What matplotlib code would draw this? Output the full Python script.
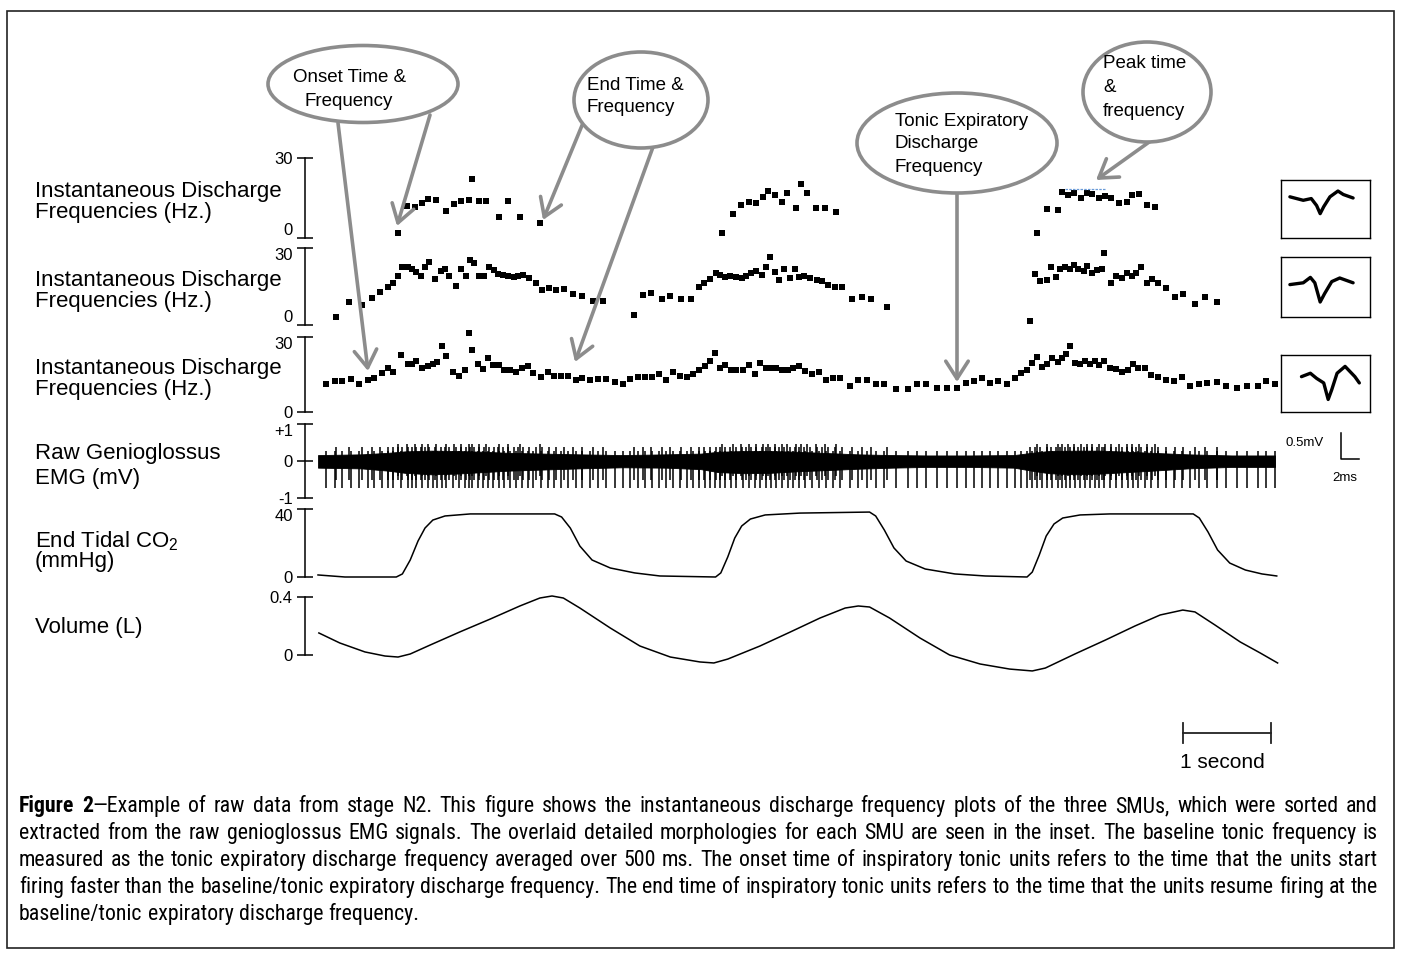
import matplotlib
matplotlib.use("Agg")
import matplotlib.pyplot as plt
from matplotlib import font_manager
from matplotlib.patches import Ellipse, Rectangle, FancyArrowPatch

W, H = 1401, 961

# ---------------- data (time in s) ----------------
unit1_t = [0.92, 1.02, 1.11, 1.20, 1.27, 1.36, 1.47, 1.56, 1.64, 1.73, 1.77, 1.85, 1.93, 2.08, 2.18, 2.32, 2.55,
           4.64, 4.77, 4.86, 4.95, 5.03, 5.11, 5.17, 5.25, 5.33, 5.39, 5.49, 5.55, 5.62, 5.72, 5.83, 5.95,
           8.27, 8.38, 8.50, 8.55, 8.62, 8.69, 8.77, 8.84, 8.90, 8.98, 9.05, 9.12, 9.21, 9.30, 9.36, 9.44, 9.53, 9.62]
unit1_hz = [1.8, 12.1, 11.8, 13.0, 14.8, 14.3, 10.2, 12.6, 13.8, 14.1, 22.0, 13.8, 13.8, 8.0, 13.8, 7.9, 5.7,
            1.8, 9.0, 12.5, 13.5, 13.3, 15.5, 17.6, 16.0, 13.5, 17.0, 11.1, 20.3, 16.8, 11.1, 11.1, 9.8,
            1.8, 10.8, 10.5, 17.1, 16.0, 17.0, 15.0, 17.0, 16.5, 15.0, 15.8, 15.0, 13.2, 13.5, 16.0, 16.5, 12.5, 11.6]

unit2_t = [0.21, 0.36, 0.51, 0.62, 0.71, 0.80, 0.86, 0.92, 0.97, 1.03, 1.08, 1.13, 1.18, 1.23, 1.28, 1.35, 1.41,
           1.46, 1.50, 1.59, 1.64, 1.70, 1.75, 1.79, 1.85, 1.91, 1.96, 2.02, 2.07, 2.13, 2.18, 2.25, 2.30, 2.36,
           2.43, 2.50, 2.58, 2.66, 2.74, 2.83, 2.93, 3.03, 3.16, 3.28,
           3.63, 3.74, 3.83, 3.95, 4.05, 4.17, 4.29, 4.38, 4.44, 4.51, 4.57, 4.62, 4.68, 4.74, 4.80, 4.87, 4.92,
           4.98, 5.03, 5.10, 5.15, 5.19, 5.25, 5.30, 5.36, 5.42, 5.48, 5.53, 5.59, 5.66, 5.73, 5.79, 5.86, 5.94,
           6.02, 6.14, 6.25, 6.36, 6.54,
           8.18, 8.24, 8.30, 8.38, 8.42, 8.48, 8.53, 8.59, 8.64, 8.69, 8.74, 8.80, 8.84, 8.90, 8.95, 9.01, 9.04,
           9.11, 9.17, 9.24, 9.30, 9.36, 9.40, 9.46, 9.53, 9.59, 9.66, 9.75, 9.85, 9.94, 10.08, 10.20, 10.33]
unit2_hz = [3.0, 9.1, 7.8, 10.6, 13.0, 14.9, 16.5, 19.1, 22.7, 22.7, 21.7, 20.8, 19.1, 22.7, 24.5, 18.0, 21.2,
            21.8, 19.1, 15.2, 21.9, 19.1, 25.3, 24.0, 19.1, 19.1, 22.5, 21.4, 19.9, 19.6, 19.1, 18.6, 19.1, 19.6,
            18.2, 16.5, 13.6, 14.3, 13.5, 14.0, 12.0, 11.4, 9.5, 9.5,
            4.0, 11.6, 12.6, 10.2, 11.3, 10.2, 10.0, 14.7, 16.5, 18.0, 20.1, 19.5, 18.6, 19.1, 18.6, 18.3, 19.1,
            20.1, 20.9, 19.4, 22.5, 26.4, 20.6, 17.5, 21.9, 18.3, 21.7, 18.6, 19.1, 18.3, 17.5, 17.0, 15.5, 14.7,
            14.7, 10.2, 11.0, 10.2, 6.9,
            1.6, 19.7, 17.3, 17.5, 22.5, 18.6, 21.9, 22.5, 21.7, 23.5, 21.9, 20.9, 23.0, 20.4, 21.4, 21.9, 27.9,
            16.2, 19.1, 18.2, 20.4, 19.1, 20.4, 22.5, 16.2, 18.0, 16.5, 14.4, 11.0, 12.1, 8.2, 10.8, 9.0]

unit3_t = [0.09, 0.20, 0.28, 0.38, 0.47, 0.57, 0.64, 0.73, 0.80, 0.86, 0.95, 1.03, 1.08, 1.13, 1.20, 1.27, 1.32,
           1.37, 1.42, 1.47, 1.55, 1.62, 1.69, 1.73, 1.77, 1.84, 1.90, 1.95, 2.01, 2.08, 2.14, 2.21, 2.28, 2.34,
           2.41, 2.47, 2.56, 2.64, 2.71, 2.79, 2.87, 2.96, 3.04, 3.13, 3.22, 3.31, 3.41, 3.51, 3.59, 3.68, 3.76,
           3.84, 3.92,
           4.00, 4.08, 4.16, 4.24, 4.31, 4.38, 4.45, 4.51, 4.56, 4.62, 4.68, 4.75, 4.81, 4.88, 4.95, 5.02, 5.08,
           5.15, 5.21, 5.27, 5.33, 5.40, 5.46, 5.53, 5.60, 5.68, 5.76, 5.84, 5.92, 6.00, 6.12, 6.21, 6.31, 6.41,
           6.51, 6.64, 6.78, 6.88, 6.99, 7.11, 7.23, 7.34, 7.45,
           7.54, 7.63, 7.72, 7.82, 7.92, 8.01, 8.08, 8.15, 8.21, 8.27, 8.32, 8.38, 8.44, 8.50, 8.55, 8.60, 8.64,
           8.70, 8.76, 8.82, 8.87, 8.93, 8.98, 9.04, 9.10, 9.17, 9.24, 9.31, 9.37, 9.43, 9.50, 9.57, 9.66, 9.75,
           9.84, 9.93, 10.02, 10.13, 10.22, 10.33, 10.44, 10.56, 10.68, 10.80, 10.90, 11.00]
unit3_hz = [11.3, 12.4, 12.4, 13.2, 11.3, 12.9, 13.4, 15.5, 17.4, 16.1, 22.8, 19.2, 19.2, 20.5, 17.4, 18.2, 19.2,
            20.0, 26.6, 22.4, 15.8, 14.2, 16.8, 31.6, 25.0, 19.2, 17.1, 21.6, 18.7, 18.7, 16.6, 16.8, 16.1, 17.4,
            18.4, 15.5, 13.9, 15.8, 14.2, 14.2, 14.2, 12.9, 13.7, 12.9, 13.2, 13.2, 11.8, 11.1, 13.2, 13.9, 13.9,
            13.9, 15.0,
            12.9, 15.8, 14.5, 13.9, 15.0, 16.6, 18.4, 20.3, 23.7, 17.4, 18.7, 16.6, 16.6, 16.6, 18.7, 15.3, 19.7,
            17.6, 17.6, 17.6, 16.8, 16.6, 17.4, 18.4, 16.3, 15.3, 15.8, 12.9, 13.4, 13.4, 10.5, 12.9, 12.9, 11.1,
            11.1, 9.2, 9.0, 11.3, 11.1, 9.7, 9.7, 9.5, 11.6,
            12.4, 13.7, 11.6, 12.4, 11.3, 13.4, 15.5, 16.6, 19.5, 22.1, 17.9, 19.2, 21.8, 20.0, 21.8, 23.2, 26.3,
            19.7, 19.2, 20.3, 19.2, 20.3, 18.7, 20.3, 17.6, 17.1, 15.8, 16.8, 19.2, 17.6, 17.6, 14.7, 13.9, 12.9,
            12.4, 13.9, 10.5, 11.3, 11.6, 12.1, 10.3, 9.5, 10.3, 10.3, 12.4, 11.3]

# raw EMG: dense band envelope (mV) and spike size per unit
emg_env_t = [0.0, 0.5, 0.8, 1.0, 1.3, 1.6, 1.9, 2.2, 2.6, 3.0, 3.5, 4.0, 4.4, 4.6, 4.9, 5.2, 5.5, 5.8, 6.2,
             6.6, 7.0, 7.5, 8.0, 8.2, 8.4, 8.7, 9.0, 9.3, 9.6, 10.0, 10.5, 11.0]
emg_env_hi = [0.16, 0.18, 0.22, 0.26, 0.28, 0.27, 0.25, 0.22, 0.2, 0.18, 0.16, 0.18, 0.2, 0.25, 0.27, 0.27,
              0.25, 0.22, 0.18, 0.16, 0.15, 0.15, 0.16, 0.22, 0.27, 0.28, 0.28, 0.25, 0.22, 0.18, 0.15, 0.15]
emg_env_lo = [-0.18, -0.2, -0.26, -0.32, -0.36, -0.34, -0.3, -0.26, -0.23, -0.2, -0.17, -0.18, -0.22, -0.3,
              -0.33, -0.32, -0.28, -0.25, -0.21, -0.18, -0.16, -0.16, -0.18, -0.26, -0.33, -0.36, -0.34, -0.3,
              -0.26, -0.2, -0.16, -0.16]
emg_spike_down = [-0.4, -0.52, -0.72]
emg_spike_up = [0.45, 0.38, 0.26]

co2_t = [0.00, 0.31, 0.90, 0.97, 1.06, 1.15, 1.23, 1.32, 1.46, 1.75, 2.72, 2.80, 2.90, 3.01, 3.15, 3.36, 3.64,
         3.93, 4.57, 4.63, 4.71, 4.79, 4.87, 4.97, 5.14, 5.54, 6.34, 6.41, 6.51, 6.62, 6.76, 6.98, 7.32, 7.67,
         8.15, 8.21, 8.29, 8.37, 8.46, 8.56, 8.76, 9.10, 10.06, 10.13, 10.23, 10.34, 10.48, 10.66, 10.85, 11.02]
co2_mmhg = [1.2, 0.0, 0.0, 1.8, 10.0, 21.2, 28.8, 33.5, 35.9, 37.1, 37.1, 35.3, 28.8, 18.2, 10.0, 5.3, 2.4,
            0.6, 0.0, 2.4, 11.8, 22.9, 30.0, 34.1, 36.5, 37.6, 38.2, 35.9, 27.6, 17.1, 9.4, 4.7, 1.8, 0.6,
            0.0, 2.9, 12.9, 24.1, 31.2, 34.7, 36.5, 37.1, 37.1, 34.7, 26.5, 15.9, 8.2, 4.1, 1.8, 0.6]

vol_t = [0.01, 0.25, 0.54, 0.77, 0.92, 1.06, 1.29, 1.63, 1.98, 2.32, 2.55, 2.69, 2.82, 3.01, 3.36, 3.70, 4.05,
         4.39, 4.55, 4.71, 5.08, 5.43, 5.77, 6.06, 6.21, 6.34, 6.57, 6.92, 7.26, 7.61, 7.95, 8.21, 8.36, 8.70,
         9.05, 9.39, 9.68, 9.94, 10.08, 10.31, 10.60, 10.83, 11.03]
vol_l = [0.152, 0.083, 0.021, -0.007, -0.014, 0.007, 0.069, 0.159, 0.248, 0.338, 0.393, 0.407, 0.393, 0.324,
         0.186, 0.062, -0.014, -0.048, -0.055, -0.028, 0.062, 0.159, 0.255, 0.324, 0.338, 0.331, 0.255, 0.117,
         0.0, -0.062, -0.097, -0.110, -0.090, 0.007, 0.103, 0.200, 0.276, 0.310, 0.297, 0.207, 0.090, 0.014,
         -0.055]

# overlaid spike shapes for the three units (inset box coords 0..1)
wave_x = [[0.10, 0.25, 0.34, 0.40, 0.44, 0.48, 0.55, 0.64, 0.70, 0.81],
          [0.10, 0.25, 0.33, 0.38, 0.44, 0.49, 0.57, 0.66, 0.81],
          [0.23, 0.33, 0.40, 0.48, 0.53, 0.57, 0.63, 0.72, 0.83, 0.88]]
wave_y = [[0.71, 0.65, 0.68, 0.56, 0.42, 0.54, 0.71, 0.81, 0.75, 0.69],
          [0.54, 0.57, 0.66, 0.57, 0.25, 0.39, 0.59, 0.65, 0.57],
          [0.62, 0.68, 0.59, 0.51, 0.22, 0.39, 0.68, 0.80, 0.62, 0.51]]

caption_lines = [
    "Figure 2\u2014Example of raw data from stage N2. This figure shows the instantaneous discharge frequency plots of the three SMUs, which were sorted and",
    "extracted from the raw genioglossus EMG signals. The overlaid detailed morphologies for each SMU are seen in the inset. The baseline tonic frequency is",
    "measured as the tonic expiratory discharge frequency averaged over 500 ms. The onset time of inspiratory tonic units refers to the time that the units start",
    "firing faster than the baseline/tonic expiratory discharge frequency. The end time of inspiratory tonic units refers to the time that the units resume firing at the",
    "baseline/tonic expiratory discharge frequency.",
]

# ---------------- layout (pixels) ----------------
AX_LEFT, AX_RIGHT = 305, 1280
T0_PX, PX_PER_S = 318, 87.0
GRAY = "#8c8c8c"

plt.rcParams["font.family"] = ["Liberation Sans", "DejaVu Sans"]
plt.rcParams["mathtext.fontset"] = "custom"
plt.rcParams["mathtext.rm"] = "Liberation Sans"

fig = plt.figure(figsize=(W / 100, H / 100), dpi=100)


def px_axes(x0, y0, x1, y1):
    return fig.add_axes([x0 / W, 1 - y1 / H, (x1 - x0) / W, (y1 - y0) / H])


def panel(ytop, ybot, vtop, vbot, ticks, labels, vas):
    ax = px_axes(AX_LEFT, ytop, AX_RIGHT, ybot)
    ax.set_xlim((AX_LEFT - T0_PX) / PX_PER_S, (AX_RIGHT - T0_PX) / PX_PER_S)
    ax.set_ylim(vbot, vtop)
    ax.patch.set_visible(False)
    for s in ["top", "right", "bottom"]:
        ax.spines[s].set_visible(False)
    ax.spines["left"].set_linewidth(1.1)
    ax.set_xticks([])
    ax.set_yticks(ticks)
    ax.set_yticklabels(labels)
    ax.tick_params(axis="y", direction="inout", length=11.5, width=1.1, pad=3, labelsize=12)
    for lab, va in zip(ax.get_yticklabels(), vas):
        lab.set_verticalalignment(va)
    return ax


panels = [
    panel(158, 238, 30, 0, [0, 30], ["0", "30"], ["bottom", "center_baseline"]),
    panel(248, 325, 30, 0, [0, 30], ["0", "30"], ["bottom", "top"]),
    panel(337, 412, 30, 0, [0, 30], ["0", "30"], ["center_baseline", "top"]),
]
for ax, t, f in zip(panels, [unit1_t, unit2_t, unit3_t], [unit1_hz, unit2_hz, unit3_hz]):
    ax.plot(t, f, "s", color="black", ms=3.8, mew=0, clip_on=False)

ax_emg = panel(424, 498, 1, -1, [-1, 0, 1], ["-1", "0", "+1"], ["center_baseline", "center_baseline", "top"])
ax_emg.fill_between(emg_env_t, emg_env_lo, emg_env_hi, color="black", lw=0.6, clip_on=False)
for k, t in enumerate([unit1_t, unit2_t, unit3_t]):
    ax_emg.vlines(t, emg_spike_down[k], emg_spike_up[k], color="black", lw=1.1, clip_on=False)

ax_co2 = panel(509, 577, 40, 0, [0, 40], ["0", "40"], ["center_baseline", "top"])
ax_co2.plot(co2_t, co2_mmhg, color="black", lw=1.1, clip_on=False)

ax_vol = panel(597, 655, 0.4, 0, [0, 0.4], ["0", "0.4"], ["center_baseline", "center_baseline"])
ax_vol.plot(vol_t, vol_l, color="black", lw=1.1, clip_on=False)

# inset spike shapes
for (y0, y1), wx, wy in zip([(180, 238), (257, 317), (355, 412)], wave_x, wave_y):
    axi = px_axes(1281, y0, 1370, y1)
    axi.set_xlim(0, 1)
    axi.set_ylim(0, 1)
    axi.set_xticks([])
    axi.set_yticks([])
    for s in axi.spines.values():
        s.set_linewidth(1.0)
    axi.plot(wx, wy, color="black", lw=2.4, solid_joinstyle="round", solid_capstyle="round")

# ---------------- overlay (pixel coordinates) ----------------
ov = fig.add_axes([0, 0, 1, 1])
ov.set_xlim(0, W)
ov.set_ylim(H, 0)
ov.axis("off")

ov.add_patch(Rectangle((7, 11), 1387, 937, fill=False, lw=1.2, ec="#222222"))

label_kw = dict(fontsize=16, ha="left", va="center", linespacing=1.05)
ov.text(35, 202, "Instantaneous Discharge\nFrequencies (Hz.)", **label_kw)
ov.text(35, 291, "Instantaneous Discharge\nFrequencies (Hz.)", **label_kw)
ov.text(35, 379, "Instantaneous Discharge\nFrequencies (Hz.)", **label_kw)
ov.text(35, 466, "Raw Genioglossus\nEMG (mV)", **dict(label_kw, linespacing=1.3))
ov.text(35, 551, "End Tidal CO$_\\mathregular{2}$\n(mmHg)", **dict(label_kw, linespacing=0.9))
ov.text(35, 628, "Volume (L)", **label_kw)

# callout bubbles
bubbles = [
    ((363, 84), 190, 77, 293, [(78, "Onset Time &", 0), (101, "Frequency", 12)]),
    ((641, 100), 134, 96, 587, [(85, "End Time &", 0), (108, "Frequency", 0)]),
    ((957, 143), 200, 100, 895, [(121, "Tonic Expiratory", 0), (144, "Discharge", 0), (167, "Frequency", 0)]),
    ((1147, 92), 128, 100, 1103, [(64, "Peak time", 0), (87, "&", 0), (111, "frequency", 0)]),
]
for c, w, h, x0, lines in bubbles:
    ov.add_patch(Ellipse(c, w, h, fc="white", ec=GRAY, lw=2.6, zorder=3))
    for y, s, dx in lines:
        ov.text(x0 + dx, y, s, fontsize=13.5, ha="left", va="center", zorder=4)

arrows = [((338, 123), (368, 371)), ((430, 115), (397, 226)), ((583, 123), (543, 220)),
          ((653, 147), (575, 362)), ((957, 193), (957, 382)), ((1152, 140), (1096, 180))]
for a, b in arrows:
    ov.add_patch(FancyArrowPatch(a, b, arrowstyle="->,head_length=0.7,head_width=0.45",
                                 mutation_scale=18, lw=2.6, color=GRAY, shrinkA=0, shrinkB=0, zorder=2))

ov.plot([1065, 1105], [189, 189], color="#6a9bd8", lw=0.9, ls=(0, (2, 1)))

# EMG scale bar
ov.text(1285, 443, "0.5mV", fontsize=9.5, ha="left", va="center")
ov.plot([1341, 1341, 1359], [433, 459, 459], color="black", lw=1.1)
ov.text(1345, 478, "2ms", fontsize=9.5, ha="center", va="center")

# time scale bar
ov.plot([1183, 1271], [733, 733], color="#222222", lw=1.3)
ov.plot([1183, 1183], [723, 743], color="#222222", lw=1.3)
ov.plot([1271, 1271], [723, 743], color="#222222", lw=1.3)
ov.text(1222, 763, "1 second", fontsize=15, ha="center", va="center")

# caption, justified between CAP_L and CAP_R
names = {f.name for f in font_manager.fontManager.ttflist}
cands = ["Liberation Sans Narrow", "Arial Narrow", "Roboto Condensed", "Open Sans Condensed"]
cap_fam = next((c for c in cands if c in names), "Liberation Sans")
CAP_L, CAP_R = 19, 1378
cap_base = [812, 839, 866, 893, 920]
renderer = fig.canvas.get_renderer()


def groups_of(line):
    out = []
    for w in line.split():
        if w == "Figure":
            out.append([(w, "bold")])
        elif w.startswith("2\u2014"):
            out.append([("2", "bold"), (w[1:], "normal")])
        else:
            out.append([(w, "normal")])
    return out


def measure(s, wt, size):
    t = ov.text(0, 0, s, fontsize=size, family=cap_fam, weight=wt)
    w = t.get_window_extent(renderer).width
    t.remove()
    return w


# largest size at which every full line fits with a normal word gap
base = 14.0
need_max = 0
for line in caption_lines[:-1]:
    tot = sum(measure(s, wt, base) for g in groups_of(line) for s, wt in g)
    need_max = max(need_max, tot + (len(line.split()) - 1) * 0.22 * base * 100 / 72)
cap_size = min(16.0, base * (CAP_R - CAP_L) / need_max)

for i, (line, yb) in enumerate(zip(caption_lines, cap_base)):
    groups = groups_of(line)
    widths = [[measure(s, wt, cap_size) for s, wt in g] for g in groups]
    total = sum(sum(w) for w in widths)
    if i == len(caption_lines) - 1:
        gap = 0.24 * cap_size * 100 / 72
    else:
        gap = (CAP_R - CAP_L - total) / (len(groups) - 1)
    x = CAP_L
    for g, ws in zip(groups, widths):
        for (s, wt), w in zip(g, ws):
            ov.text(x, yb, s, fontsize=cap_size, family=cap_fam, weight=wt, ha="left", va="baseline")
            x += w
        x += gap

fig.savefig("out.png", dpi=100)
